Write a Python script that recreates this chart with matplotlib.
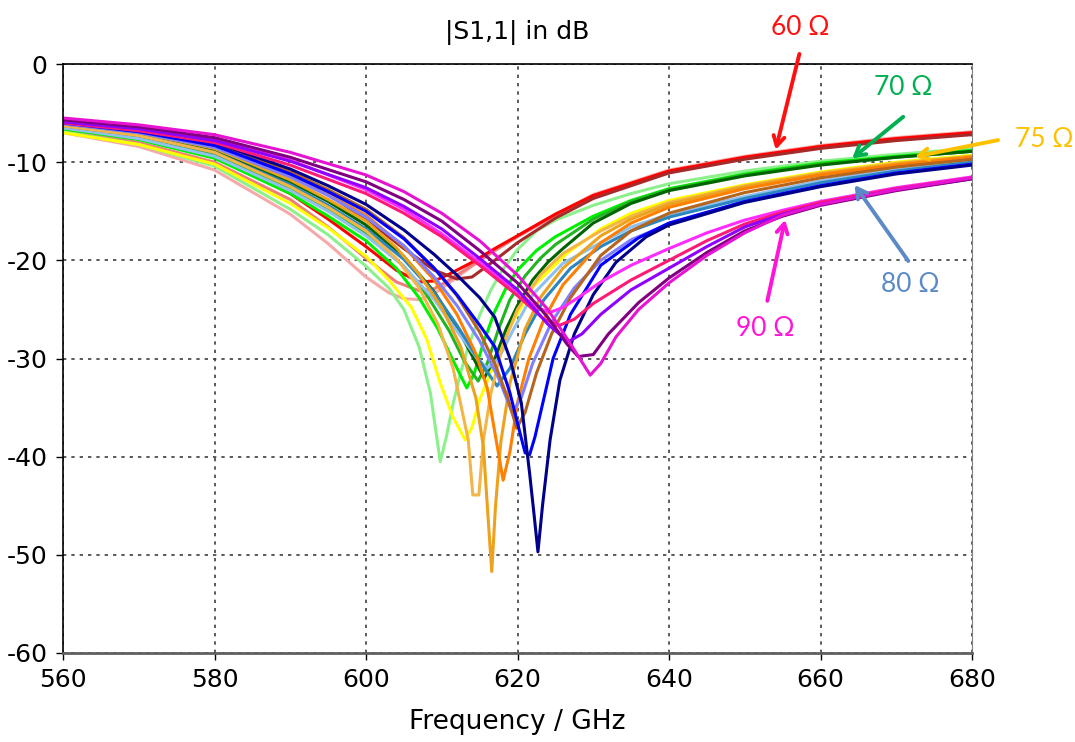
import matplotlib
matplotlib.use("Agg")
import matplotlib.pyplot as plt

plt.rcParams['axes.unicode_minus'] = False

# |S11| curves (frequency in GHz, value in dB)
# 60 Ohm group
pink_f = [560, 570, 580, 590, 595, 600, 603, 605, 607, 609, 611, 614, 617, 620, 625, 630, 640, 650, 660, 670, 680]
pink_db = [-7.0, -8.4, -10.8, -15.3, -18.3, -21.7, -23.3, -23.9, -24.0, -23.4, -22.3, -20.6, -19.0, -17.5, -15.3, -13.3, -10.8, -9.4, -8.3, -7.5, -6.9]
coral_f = [560, 570, 580, 590, 595, 600, 604, 607, 609, 611, 614, 617, 620, 625, 630, 640, 650, 660, 670, 680]
coral_db = [-6.8, -8.0, -10.0, -13.8, -16.6, -19.8, -22.2, -23.1, -22.9, -22.0, -20.5, -19.0, -17.6, -15.4, -13.4, -10.9, -9.5, -8.4, -7.6, -7.0]
red_f = [560, 570, 580, 590, 595, 600, 604, 607, 609, 611, 614, 617, 620, 625, 630, 640, 650, 660, 670, 680]
red_db = [-6.5, -7.6, -9.4, -13.2, -15.8, -18.6, -21.0, -22.2, -22.1, -21.4, -20.2, -18.8, -17.5, -15.3, -13.4, -10.9, -9.5, -8.4, -7.6, -7.0]
darkred_f = [560, 570, 580, 590, 595, 600, 605, 609, 612, 614, 617, 620, 625, 630, 640, 650, 660, 670, 680]
darkred_db = [-6.2, -7.1, -8.6, -11.3, -13.3, -15.8, -18.8, -21.0, -21.9, -21.7, -20.0, -18.2, -15.7, -13.7, -11.1, -9.7, -8.6, -7.8, -7.2]

# 70 Ohm group
lightgreen_f = [560, 570, 580, 590, 595, 600, 603, 605, 607, 608.5, 609.8, 610.6, 611.5, 612.5, 613.5, 615, 616.5, 618, 620, 622.5, 625, 630, 635, 640, 650, 660, 670, 680]
lightgreen_db = [-6.9, -8.2, -10.4, -14.8, -17.4, -20.6, -22.8, -25.0, -28.8, -33.5, -40.5, -38.0, -34.6, -31.4, -28.8, -25.6, -23.0, -21.0, -18.9, -17.0, -15.9, -14.4, -13.2, -12.2, -10.9, -9.9, -9.2, -8.6]
lime_f = [560, 570, 580, 590, 595, 600, 604, 607, 609.5, 611.5, 613.3, 614.3, 615.5, 617, 618.5, 620, 622.5, 625, 630, 635, 640, 650, 660, 670, 680]
lime_db = [-6.6, -7.7, -9.6, -13.2, -15.5, -18.0, -20.8, -23.8, -27.0, -30.2, -33.0, -31.5, -28.4, -25.2, -22.8, -21.0, -19.0, -17.6, -15.5, -13.9, -12.7, -11.2, -10.1, -9.4, -8.8]
limegreen_f = [560, 570, 580, 590, 595, 600, 605, 608, 611, 613, 614.8, 616, 617.5, 619, 621, 623, 625, 630, 635, 640, 650, 660, 670, 680]
limegreen_db = [-6.4, -7.4, -9.2, -12.6, -14.8, -17.3, -20.6, -23.5, -27.2, -30.3, -32.3, -30.5, -27.0, -24.0, -21.6, -19.8, -18.4, -15.8, -14.0, -12.8, -11.3, -10.2, -9.5, -8.9]
darkgreen_f = [560, 570, 580, 590, 595, 600, 605, 609, 612, 614, 615.6, 617, 618.5, 620, 622, 624, 626, 630, 635, 640, 650, 660, 670, 680]
darkgreen_db = [-6.2, -7.2, -8.8, -12.0, -14.0, -16.4, -19.6, -23.2, -26.8, -29.7, -32.0, -30.0, -27.0, -24.6, -22.0, -20.2, -18.8, -16.2, -14.2, -12.9, -11.4, -10.3, -9.5, -8.9]

# 75 Ohm group
yellow_f = [560, 570, 580, 590, 595, 600, 603, 606, 608, 609.8, 611.5, 613.1, 614, 615, 617, 619, 622, 626.5, 631, 635, 640, 650, 660, 670, 680]
yellow_db = [-7.0, -8.2, -10.2, -14.2, -16.7, -19.6, -22.0, -24.8, -28.0, -32.5, -36.0, -38.3, -37.0, -34.2, -30.4, -26.8, -22.7, -19.3, -16.8, -15.2, -13.9, -12.3, -11.0, -10.0, -9.3]
lightgold_f = [560, 570, 580, 590, 595, 600, 604, 607, 609.5, 611.5, 613.5, 614.1, 614.9, 615.5, 616.5, 618, 620, 623, 626, 631, 635, 640, 650, 660, 670, 680]
lightgold_db = [-6.3, -7.3, -9.0, -12.5, -14.6, -17.0, -19.8, -22.8, -26.5, -31.0, -38.3, -43.9, -43.9, -38.3, -33.5, -28.8, -25.0, -21.5, -19.3, -17.0, -15.5, -14.1, -12.4, -11.1, -10.1, -9.4]
gold_f = [560, 570, 580, 590, 595, 600, 604, 607, 610, 612.5, 614.5, 615.5, 616.1, 616.6, 617.1, 617.8, 619, 621, 623, 626, 631, 635, 640, 650, 660, 670, 680]
gold_db = [-6.1, -7.0, -8.6, -11.8, -13.8, -16.0, -18.7, -21.4, -24.8, -28.8, -34.0, -39.0, -46.0, -51.7, -45.0, -38.5, -32.5, -27.0, -23.8, -20.8, -17.5, -15.8, -14.3, -12.5, -11.2, -10.2, -9.4]
orange_f = [560, 570, 580, 590, 595, 600, 605, 609, 612, 614.5, 616, 617, 618.1, 619, 620, 621.5, 623.5, 626, 631, 635, 640, 650, 660, 670, 680]
orange_db = [-6.0, -6.9, -8.4, -11.4, -13.3, -15.4, -18.6, -22.0, -25.5, -29.5, -33.0, -37.5, -42.4, -39.5, -34.5, -30.0, -26.0, -22.5, -18.2, -16.2, -14.6, -12.7, -11.3, -10.3, -9.5]
sienna_f = [560, 570, 580, 590, 595, 600, 605, 609, 612, 615, 617, 618.7, 619.9, 621, 622.5, 624.5, 627, 631, 635, 640, 650, 660, 670, 680]
sienna_db = [-5.9, -6.8, -8.2, -11.0, -12.8, -14.8, -17.7, -20.8, -23.6, -27.3, -30.5, -34.0, -37.1, -35.5, -31.5, -27.5, -23.8, -19.5, -17.0, -15.2, -13.1, -11.6, -10.5, -9.7]

# 80 Ohm group
skyblue_f = [560, 570, 580, 590, 595, 600, 605, 609, 612, 614.5, 616, 617.5, 619.5, 622, 626, 631, 635, 640, 650, 660, 670, 680]
skyblue_db = [-6.5, -7.6, -9.4, -12.9, -15.0, -17.5, -20.6, -24.0, -27.2, -29.8, -31.0, -30.0, -27.0, -23.5, -20.3, -18.2, -16.6, -15.3, -13.5, -11.9, -10.7, -9.9]
steel_f = [560, 570, 580, 590, 595, 600, 605, 609, 612, 614.5, 617.3, 619, 621, 623.5, 627, 631, 635, 640, 650, 660, 670, 680]
steel_db = [-6.3, -7.3, -9.0, -12.3, -14.4, -16.8, -19.9, -23.3, -26.6, -29.7, -32.8, -31.0, -27.5, -24.0, -20.8, -18.6, -17.0, -15.6, -13.7, -12.1, -10.9, -10.0]
cornflower_f = [560, 570, 580, 590, 595, 600, 605, 609, 612, 615, 617.5, 619.3, 620.5, 622, 624.5, 627.5, 631, 635, 640, 650, 660, 670, 680]
cornflower_db = [-6.1, -7.0, -8.5, -11.5, -13.4, -15.6, -18.5, -21.7, -24.6, -28.2, -32.0, -35.5, -34.0, -30.5, -26.3, -22.8, -20.0, -17.9, -16.3, -14.0, -12.4, -11.1, -10.2]
blue_f = [560, 570, 580, 590, 595, 600, 605, 609, 612, 615, 617, 619, 620.3, 621, 621.6, 622.3, 623.2, 624.7, 627, 631, 636, 640, 650, 660, 670, 680]
blue_db = [-6.0, -6.9, -8.3, -11.2, -13.0, -15.0, -17.8, -20.8, -23.5, -26.6, -28.8, -33.5, -37.5, -39.6, -39.8, -38.0, -35.0, -30.0, -25.5, -20.5, -17.7, -16.2, -14.0, -12.4, -11.1, -10.2]
navy_f = [560, 570, 580, 590, 595, 600, 605, 609, 612, 615, 617, 619, 620.5, 621.6, 622.2, 622.7, 623.3, 624.3, 625.6, 627.5, 630, 633, 637, 640, 650, 660, 670, 680]
navy_db = [-5.9, -6.7, -8.0, -10.7, -12.4, -14.3, -16.9, -19.4, -21.5, -23.8, -25.8, -30.0, -34.5, -41.7, -46.0, -49.7, -45.0, -38.3, -32.2, -27.5, -23.5, -20.2, -17.6, -16.4, -14.1, -12.5, -11.2, -10.3]

# 90 Ohm group
magenta_f = [560, 570, 580, 590, 600, 605, 610, 615, 620, 622.5, 624.3, 626, 628, 631, 635, 640, 645, 650, 655, 660, 670, 680]
magenta_db = [-5.8, -6.5, -7.6, -9.8, -12.8, -14.8, -17.3, -20.2, -23.2, -24.8, -25.3, -24.8, -23.8, -22.2, -20.5, -18.8, -17.2, -15.9, -14.9, -14.0, -12.6, -11.5]
deeppink_f = [560, 570, 580, 590, 600, 605, 610, 615, 620, 623.5, 625.6, 627.5, 630, 635, 640, 645, 650, 655, 660, 670, 680]
deeppink_db = [-6.0, -6.8, -8.0, -10.3, -13.2, -15.2, -17.6, -20.5, -23.6, -26.0, -26.6, -26.0, -24.4, -22.0, -20.0, -18.0, -16.3, -15.1, -14.1, -12.7, -11.6]
violet_f = [560, 570, 580, 590, 600, 605, 610, 615, 620, 624, 626.7, 628.5, 631, 635, 640, 645, 650, 655, 660, 670, 680]
violet_db = [-5.9, -6.6, -7.8, -9.9, -12.6, -14.5, -16.8, -19.8, -23.0, -26.5, -28.3, -27.5, -25.5, -23.0, -20.8, -18.6, -16.6, -15.3, -14.3, -12.8, -11.7]
purple_f = [560, 570, 580, 590, 600, 605, 610, 615, 620, 624, 626.5, 628, 630, 632, 636, 640, 645, 650, 655, 660, 670, 680]
purple_db = [-5.7, -6.4, -7.5, -9.5, -12.0, -13.8, -16.0, -19.0, -22.3, -25.8, -28.5, -29.8, -29.6, -27.5, -24.3, -21.8, -19.2, -17.0, -15.5, -14.4, -12.9, -11.7]
fuchsia_f = [560, 570, 580, 590, 600, 605, 610, 615, 620, 624, 627, 629.6, 631, 633, 636, 640, 645, 650, 655, 660, 670, 680]
fuchsia_db = [-5.5, -6.2, -7.2, -9.0, -11.3, -13.0, -15.2, -18.0, -21.5, -25.0, -28.5, -31.7, -30.5, -27.8, -25.0, -22.3, -19.5, -17.2, -15.4, -14.3, -12.8, -11.6]

curves = [
    (pink_f, pink_db, '#f6a9a9'), (coral_f, coral_db, '#f07c7c'),
    (lightgreen_f, lightgreen_db, '#8cf08c'), (yellow_f, yellow_db, '#ffff00'),
    (red_f, red_db, '#ff0000'), (darkred_f, darkred_db, '#a52a2a'),
    (lime_f, lime_db, '#00f000'), (limegreen_f, limegreen_db, '#22b522'),
    (darkgreen_f, darkgreen_db, '#006400'), (skyblue_f, skyblue_db, '#8fc0ee'),
    (steel_f, steel_db, '#2a86c0'), (lightgold_f, lightgold_db, '#f3b548'),
    (gold_f, gold_db, '#eda21e'), (orange_f, orange_db, '#ff7f00'),
    (cornflower_f, cornflower_db, '#8080ff'), (sienna_f, sienna_db, '#b5651d'),
    (blue_f, blue_db, '#0000ff'), (navy_f, navy_db, '#00008b'),
    (magenta_f, magenta_db, '#ff2cff'), (deeppink_f, deeppink_db, '#ff1a75'),
    (violet_f, violet_db, '#9000ff'), (purple_f, purple_db, '#800080'),
    (fuchsia_f, fuchsia_db, '#e614d2'),
]

fig = plt.figure(figsize=(10.75, 7.42), dpi=100)
ax = fig.add_axes([63 / 1075, 89 / 742, 909 / 1075, 589 / 742])

for f, db, c in curves:
    ax.plot(f, db, color=c, lw=2.2, solid_joinstyle='round')

ax.set_xlim(560, 680)
ax.set_ylim(-60, 0)
ax.set_xticks(range(560, 681, 20))
ax.set_yticks(range(-60, 1, 10))
ax.grid(True, color='#404040', linestyle=(0, (2, 3)), lw=1.2)
ax.tick_params(labelsize=18, length=5, width=1, pad=6)
for side in ['left', 'top']:
    ax.spines[side].set_color('black')
    ax.spines[side].set_linewidth(1.2)
ax.spines['right'].set_color('#808080')
ax.spines['bottom'].set_color('#606060')
ax.spines['bottom'].set_linewidth(2)
ax.set_xlabel('Frequency / GHz', fontsize=19, labelpad=12)
ax.set_title('|S1,1| in dB', fontsize=18, pad=18)

# impedance labels with arrows
labels = ['60 Ω', '70 Ω', '75 Ω', '80 Ω', '90 Ω']
label_colors = ['#ff1010', '#00b050', '#ffc000', '#5b8ac6', '#ff14d8']
label_xy = [(657.3, 3.7), (670.9, -2.4), (689.5, -7.7), (671.8, -22.5), (652.7, -26.9)]
tail_xy = [(657.3, 1.3), (671.2, -5.2), (683.8, -7.7), (671.8, -20.3), (652.9, -24.4)]
tip_xy = [(654.0, -9.0), (663.9, -9.8), (672.1, -9.5), (664.3, -12.1), (655.4, -15.6)]
for lab, c, lxy, txy, pxy in zip(labels, label_colors, label_xy, tail_xy, tip_xy):
    ax.annotate('', xy=pxy, xytext=txy, annotation_clip=False,
                arrowprops=dict(arrowstyle='->,head_length=0.7,head_width=0.4', color=c, lw=2.8))
    ax.text(lxy[0], lxy[1], lab, color=c, fontsize=19, ha='center', va='center',
            family=['Lato', 'DejaVu Sans'], clip_on=False)

fig.savefig('out.png', dpi=100)
